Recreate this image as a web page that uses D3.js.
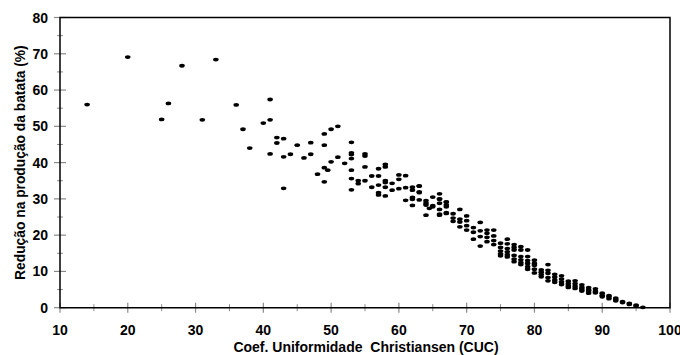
<!DOCTYPE html>
<html>
<head>
<meta charset="utf-8">
<script src="https://cdn.jsdelivr.net/npm/d3@7"></script>
<style>
  body { margin: 0; background: #fff; }
  text { font-family: "Liberation Sans", Arial, sans-serif; font-weight: bold; fill: #000; }
</style>
</head>
<body>
<svg id="chart" width="680" height="355"></svg>
<script>
// CUC (%) and yield reduction (%)
const cuc = [
  14, 20, 25, 26, 28, 31, 33, 36, 37, 38, 40,
  41, 41, 41, 42, 42, 43, 43, 43, 44, 45, 46, 47, 47, 48,
  49, 49, 49, 49, 49.5, 50, 50, 51, 51, 52,
  53, 53, 53, 53, 53, 53, 53, 54, 54,
  55, 55, 55, 55, 56, 56,
  57, 57, 57, 57, 57, 58, 58, 58, 58, 58, 58, 59, 59,
  60, 60, 60, 61, 61, 61, 62, 62, 62, 62, 62,
  63, 63, 63, 63, 63, 64, 64, 64, 64, 64.5, 65, 65, 65,
  66, 66, 66, 66, 66, 66, 66, 67, 67, 67, 67, 67, 67,
  68, 68, 68, 69, 69, 69, 69, 70, 70, 70, 70,
  71, 71, 71, 72, 72, 72, 72, 73, 73, 73, 73,
  74, 74, 74, 74, 75, 75, 75, 75, 75,
  76, 76, 76, 76, 76, 76, 77, 77, 77, 77, 77, 77,
  78, 78, 78, 78, 78, 78, 79, 79, 79, 79, 79, 79,
  80, 80, 80, 80, 80, 81, 81, 81, 81, 82, 82, 82, 82, 82,
  83, 83, 83, 83, 84, 84, 84, 84, 85, 85, 85, 85,
  86, 86, 86, 86, 87, 87, 87, 87, 88, 88, 88, 88,
  89, 89, 89, 90, 90, 90, 91, 91, 91, 92, 92, 92,
  93, 93, 94, 94, 95, 95, 96
];
const reducao = [
  56.0, 69.1, 51.9, 56.3, 66.7, 51.8, 68.4, 55.9, 49.2, 44.0, 50.9,
  57.4, 51.8, 42.4, 46.9, 45.4, 46.6, 41.6, 32.9, 42.3, 44.8, 41.3, 45.5, 42.3, 36.8,
  47.9, 44.8, 38.6, 34.7, 37.9, 49.2, 40.2, 50.0, 41.5, 39.8,
  45.6, 42.7, 42.2, 41.1, 37.9, 35.6, 32.5, 35.0, 34.2,
  42.4, 41.8, 38.8, 35.0, 36.3, 33.2,
  38.3, 36.3, 33.8, 31.7, 31.1, 39.5, 38.8, 35.0, 34.5, 33.2, 30.8, 34.3, 32.4,
  36.6, 35.4, 32.8, 36.4, 33.1, 29.6, 33.2, 32.4, 30.4, 29.9, 28.2,
  33.6, 33.5, 31.9, 31.7, 29.7, 29.5, 28.8, 28.3, 25.5, 27.4, 30.5, 28.1, 27.8,
  31.4, 30.0, 29.9, 28.8, 27.1, 25.8, 25.5, 29.2, 29.1, 28.3, 27.8, 26.2, 26.0,
  25.9, 24.7, 23.8, 27.1, 24.4, 23.6, 22.3, 25.3, 24.0, 22.6, 21.4,
  22.1, 20.8, 18.9, 23.5, 21.2, 19.6, 17.0, 21.4, 20.5, 19.4, 18.2,
  21.4, 19.8, 18.5, 17.4, 17.8, 16.6, 15.6, 14.8, 14.3,
  18.9, 17.6, 16.3, 15.4, 14.6, 14.0, 17.4, 16.6, 15.9, 14.4, 13.4, 12.7,
  16.8, 15.9, 14.1, 13.2, 12.4, 11.9, 15.9, 14.1, 13.0, 12.2, 11.3, 10.6,
  13.1, 12.2, 11.7, 10.6, 9.6, 10.4, 9.8, 9.1, 8.5, 11.9, 10.3, 9.5, 8.3, 7.4,
  9.2, 8.4, 7.6, 7.0, 8.8, 7.9, 7.1, 6.4, 7.3, 6.6, 6.0, 5.6,
  7.4, 6.6, 5.9, 5.3, 6.3, 5.6, 5.1, 4.6, 5.5, 4.9, 4.6, 4.0,
  5.2, 4.5, 4.1, 4.0, 3.4, 3.0, 3.3, 3.0, 2.5, 2.6, 2.2, 1.9,
  1.7, 1.4, 1.2, 0.9, 0.7, 0.5, 0.1
];
const xTicks = [10, 20, 30, 40, 50, 60, 70, 80, 90, 100];
const yTicks = [0, 10, 20, 30, 40, 50, 60, 70, 80];

const svg = d3.select("#chart");
const plotLeft = 60, plotRight = 670, plotTop = 17.5, plotBottom = 307.7;

const x = d3.scaleLinear().domain([10, 100]).range([plotLeft, plotRight]);
const y = d3.scaleLinear().domain([0, 80]).range([plotBottom, plotTop]);

const gray = "#8a8a8a";

// minor ticks every 5 units
const xMinor = d3.range(15, 100, 10);
const yMinor = d3.range(5, 80, 10);

svg.selectAll(".xmaj").data(xTicks).join("line")
  .attr("x1", d => x(d)).attr("x2", d => x(d))
  .attr("y1", plotBottom - 5).attr("y2", plotBottom + 5)
  .attr("stroke", gray).attr("stroke-width", 1.2);
svg.selectAll(".xmin").data(xMinor).join("line")
  .attr("x1", d => x(d)).attr("x2", d => x(d))
  .attr("y1", plotBottom - 3.5).attr("y2", plotBottom + 3.5)
  .attr("stroke", gray).attr("stroke-width", 1);
svg.selectAll(".ymaj").data(yTicks).join("line")
  .attr("x1", plotLeft - 6).attr("x2", plotLeft + 6)
  .attr("y1", d => y(d)).attr("y2", d => y(d))
  .attr("stroke", gray).attr("stroke-width", 1.2);
svg.selectAll(".ymin").data(yMinor).join("line")
  .attr("x1", plotLeft - 3).attr("x2", plotLeft + 3)
  .attr("y1", d => y(d)).attr("y2", d => y(d))
  .attr("stroke", gray).attr("stroke-width", 1);

// frame
svg.append("path")
  .attr("d", `M${plotLeft},${plotTop}H${plotRight}V${plotBottom}H${plotLeft}Z`)
  .attr("fill", "none").attr("stroke", "#000").attr("stroke-width", 1.5);

// tick labels
svg.selectAll(".xl").data(xTicks).join("text")
  .attr("x", d => x(d)).attr("y", plotBottom + 27)
  .attr("text-anchor", "middle").attr("font-size", 14)
  .text(d => d);
svg.selectAll(".yl").data(yTicks).join("text")
  .attr("x", plotLeft - 12).attr("y", d => y(d) + 5)
  .attr("text-anchor", "end").attr("font-size", 14)
  .text(d => d);

// axis titles
svg.append("text")
  .attr("x", (plotLeft + plotRight) / 2 + 1).attr("y", 352)
  .attr("text-anchor", "middle").attr("font-size", 14)
  .attr("xml:space", "preserve")
  .text("Coef. Uniformidade  Christiansen (CUC)");
svg.append("text")
  .attr("transform", `translate(25,${(plotTop + plotBottom) / 2}) rotate(-90)`)
  .attr("text-anchor", "middle").attr("font-size", 13.8)
  .text("Redução na produção da batata (%)");

// points
svg.append("g").selectAll("ellipse").data(cuc).join("ellipse")
  .attr("cx", d => x(d))
  .attr("cy", (d, i) => y(reducao[i]))
  .attr("rx", 2.8).attr("ry", 1.9)
  .attr("fill", "#000");
</script>
</body>
</html>
